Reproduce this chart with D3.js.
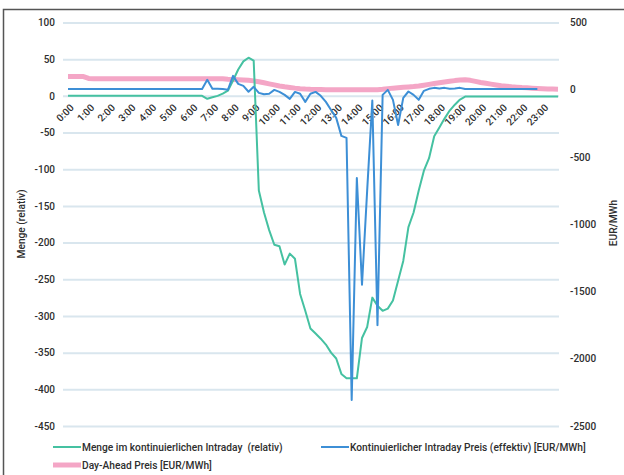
<!DOCTYPE html>
<html>
<head>
<meta charset="utf-8">
<script src="https://cdn.jsdelivr.net/npm/d3@7"></script>
<style>
  body { margin: 0; background: #fff; }
  text { font-family: Roboto, "Liberation Sans", sans-serif; fill: #2e2e2e; font-weight: 500; }
  .tick-label { font-size: 10px; }
  .legend-label { font-size: 10.2px; }
</style>
</head>
<body>
<div id="wrapper"></div>
<script>
// Stundenbeschriftungen der x-Achse (Viertelstundenwerte, Beschriftung je volle Stunde)
const hourLabels = ["0:00", "1:00", "2:00", "3:00", "4:00", "5:00", "6:00", "7:00",
  "8:00", "9:00", "10:00", "11:00", "12:00", "13:00", "14:00", "15:00", "16:00",
  "17:00", "18:00", "19:00", "20:00", "21:00", "22:00", "23:00"];

const leftTicks = [100, 50, 0, -50, -100, -150, -200, -250, -300, -350, -400, -450];
const rightTicks = [500, 0, -500, -1000, -1500, -2000, -2500];

// Menge im kontinuierlichen Intraday (relativ) - linke Achse
const mengeRelativ = [
  0, 0, 0, 0, 0, 0, 0, 0, 0, 0, 0, 0, 0, 0, 0, 0, 0, 0, 0, 0, 0, 0, 0, 0, 0, 0, 0,
  -4, -2, 0, 3, 7, 21, 36, 47, 52, 48, -129, -159, -183, -203, -205, -230, -215, -222,
  -270, -293, -317, -324, -331, -339, -350, -358, -379, -385, -385, -385, -330, -315,
  -275, -286, -293, -290, -279, -252, -225, -179, -159, -129, -102, -85, -55, -43,
  -31, -20, -12, -5,
  -1, -1, -1, -1, -1, -1, -1, -1, -1, -1, -1, -1, -1, -1, -1, -1, -1, -1, -1
];

// Kontinuierlicher Intraday Preis (effektiv) [EUR/MWh] - rechte Achse
const intradayPreis = [
  5, 5, 5, 5, 5, 5, 5, 5, 5, 5, 5, 5, 5, 5, 5, 5, 5, 5, 5, 5, 5, 5, 5, 5, 5, 5, 5,
  74, 7, 7, 5, 0, 103, 44, 29, -15, 22, -23, -34, -30, -1, -16, -38, -68, -16, -30,
  -90, -30, -16, -45, -90, -150, -209, -343, -358, -2307, -656, -1450, -750, -80,
  -1750, -38, -1, -75, -262, -60, -13, -38, -75, -8, 7, 14, 10, 14, 7, 10, 14,
  5, 5, 5, 5, 5, 5, 5, 5, 5, 5, 5, 5, 5, 5, 5,
  null, null, null, null
];

// Day-Ahead Preis [EUR/MWh] - rechte Achse
const dayAheadPreis = [
  98, 98, 98, 98, 84,
  81, 81, 81, 81, 81, 81, 81, 81, 81, 81, 81, 81, 81, 81, 81, 81, 81, 81, 81, 81, 81,
  81, 81, 81, 81, 81,
  78, 76, 74, 72, 70, 66, 60, 52, 44, 36, 28, 22, 17, 12, 8, 5, 3, 2, 1, 0,
  0, 0, 0, 0, 0, 0, 0, 0, 0, 0,
  3, 8, 12, 15, 18, 21, 24, 28, 34, 40, 46, 52, 58, 63, 68, 72, 74, 70, 62, 54, 48,
  42, 36, 30, 26, 22, 19, 16, 14, 12, 10, 8, 6, 5, 4
];

const legendItems = [
  { label: "Menge im kontinuierlichen Intraday  (relativ)", color: "#45c1a1", width: 2, x: 53, y: 447 },
  { label: "Kontinuierlicher Intraday Preis (effektiv) [EUR/MWh]", color: "#3d8fd6", width: 2, x: 321, y: 447 },
  { label: "Day-Ahead Preis [EUR/MWh]", color: "#f4a6c6", width: 5, x: 53, y: 465 },
];

const width = 624;
const height = 475;
const plot = { left: 63, right: 559, top: 22.5, bottom: 426 };

const svg = d3.select("#wrapper")
  .append("svg")
    .attr("width", width)
    .attr("height", height);

// Rahmen
svg.append("rect")
  .attr("x", 3.5)
  .attr("y", 9.5)
  .attr("width", 630)
  .attr("height", 480)
  .attr("fill", "none")
  .attr("stroke", "#555")
  .attr("stroke-width", 1.5);

const slots = d3.range(mengeRelativ.length);
const xScale = d3.scaleLinear()
  .domain([0, slots.length - 1])
  .range([68, 558]);

const yLeft = d3.scaleLinear()
  .domain([-450, 100])
  .range([plot.bottom, plot.top]);

const yRight = d3.scaleLinear()
  .domain([-2500, 500])
  .range([plot.bottom, plot.top]);

// plain hyphen, no thousands separator - like the original
const plainFormat = d => `${d}`;

// Gitterlinien + linke Achse
const leftAxis = d3.axisLeft(yLeft)
  .tickValues(leftTicks)
  .tickFormat(plainFormat)
  .tickSize(-(plot.right - plot.left))
  .tickPadding(8);

svg.append("g")
  .attr("transform", `translate(${plot.left}, 0)`)
  .call(leftAxis)
  .call(g => g.select(".domain").remove())
  .call(g => g.selectAll(".tick line")
    .attr("stroke", "#d9e6ee")
    .attr("stroke-width", 2))
  .call(g => g.selectAll(".tick text")
    .attr("class", "tick-label")
    .attr("fill", null));

// rechte Achse (ohne Linien)
const rightAxis = d3.axisRight(yRight)
  .tickValues(rightTicks)
  .tickFormat(plainFormat)
  .tickSize(0)
  .tickPadding(11);

svg.append("g")
  .attr("transform", `translate(${plot.right}, 0)`)
  .call(rightAxis)
  .call(g => g.select(".domain").remove())
  .call(g => g.selectAll(".tick text")
    .attr("class", "tick-label")
    .attr("fill", null));

// x-Beschriftung, schraeg an der Nulllinie
svg.append("g")
  .selectAll("text")
  .data(hourLabels)
  .join("text")
    .attr("class", "tick-label")
    .attr("text-anchor", "end")
    .attr("transform", (d, i) => `translate(${xScale(i * 4) + 4}, ${yLeft(0) + 10}) rotate(-45)`)
    .attr("dy", "0.35em")
    .text(d => d);

// Achsentitel
svg.append("text")
  .attr("class", "legend-label")
  .attr("text-anchor", "middle")
  .attr("transform", "translate(21, 224) rotate(-90)")
  .attr("dy", "0.35em")
  .text("Menge (relativ)");

svg.append("text")
  .attr("class", "legend-label")
  .attr("text-anchor", "middle")
  .attr("transform", "translate(613, 223) rotate(-90)")
  .attr("dy", "0.35em")
  .text("EUR/MWh");

// Linien
const lineLeft = d3.line()
  .defined(d => d != null)
  .x((d, i) => xScale(i))
  .y(d => yLeft(d));

const lineRight = d3.line()
  .defined(d => d != null)
  .x((d, i) => xScale(i))
  .y(d => yRight(d));

svg.append("path")
  .attr("d", lineRight(dayAheadPreis))
  .attr("fill", "none")
  .attr("stroke", legendItems[2].color)
  .attr("stroke-width", 5)
  .attr("stroke-linejoin", "round");

svg.append("path")
  .attr("d", lineLeft(mengeRelativ))
  .attr("fill", "none")
  .attr("stroke", legendItems[0].color)
  .attr("stroke-width", 2)
  .attr("stroke-linejoin", "round");

svg.append("path")
  .attr("d", lineRight(intradayPreis))
  .attr("fill", "none")
  .attr("stroke", legendItems[1].color)
  .attr("stroke-width", 2)
  .attr("stroke-linejoin", "round");

// Legende
const legend = svg.append("g")
  .selectAll("g")
  .data(legendItems)
  .join("g")
    .attr("transform", d => `translate(${d.x}, ${d.y})`);

legend.append("line")
  .attr("x1", 0)
  .attr("x2", 28)
  .attr("stroke", d => d.color)
  .attr("stroke-width", d => d.width);

legend.append("text")
  .attr("class", "legend-label")
  .attr("x", 29)
  .attr("dy", "0.35em")
  .style("white-space", "pre")
  .text(d => d.label);
</script>
</body>
</html>
